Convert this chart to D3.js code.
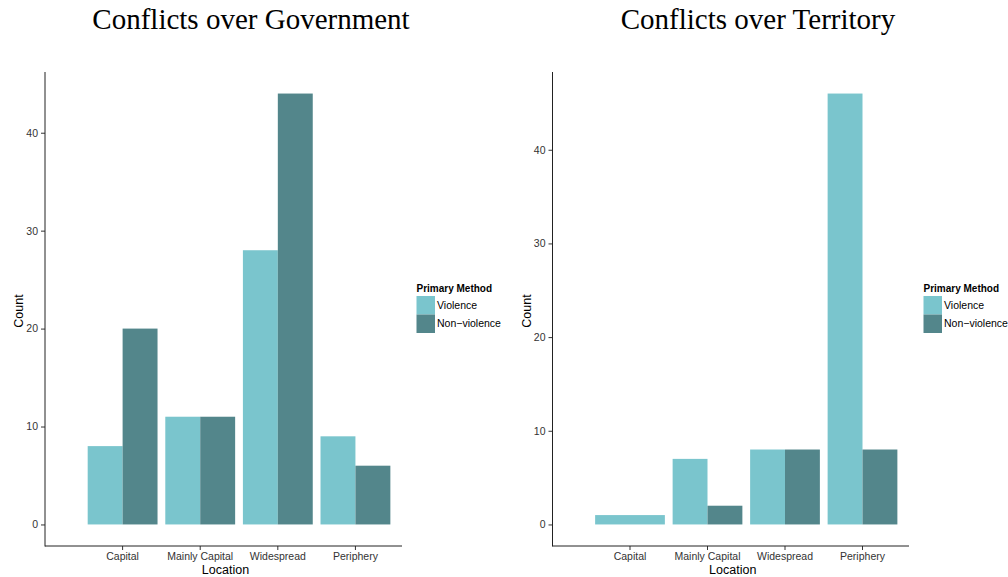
<!DOCTYPE html>
<html>
<head>
<meta charset="utf-8">
<script src="https://cdn.jsdelivr.net/npm/d3@7"></script>
<style>
  body { margin: 0; background: #fff; }
  svg { display: block; }
</style>
</head>
<body>
<svg id="chart" width="1008" height="577"></svg>
<script>
// Location categories shared by both panels
const locations = ["Capital", "Mainly Capital", "Widespread", "Periphery"];
const methods = ["Violence", "Non\u2212violence"];

// Counts per location (null = no conflicts of that method)
const govViolence = [8, 11, 28, 9];
const govNonViolence = [20, 11, 44, 6];
const terViolence = [1, 7, 8, 46];
const terNonViolence = [null, 2, 8, 8];

const yTicksGov = [0, 10, 20, 30, 40];
const yTicksTer = [0, 10, 20, 30, 40];

const colors = ["#7AC5CD", "#53868B"];

const svg = d3.select("#chart");

function drawPanel(opts) {
  const { title, titleX, left, right, top, bottom, violence, nonViolence, ticks, legendX } = opts;
  const g = svg.append("g");

  // y scale with 5% expansion of the data range
  const maxV = d3.max([...violence, ...nonViolence].filter(v => v != null));
  const pad = maxV * 0.05;
  const y = d3.scaleLinear().domain([-pad, maxV + pad]).range([bottom, top]);

  // discrete positions: categories at 1..4, panel spans 0..4.6
  const pos = d3.scaleLinear().domain([0, 4.6]).range([left, right]);
  const x = d3.scaleBand()
    .domain(locations)
    .range([pos(0.5), pos(4.5)])
    .paddingInner(0.1)
    .paddingOuter(0.05);

  // bars (dodged; a lone group takes the whole slot)
  locations.forEach((loc, i) => {
    const vals = [violence[i], nonViolence[i]];
    const present = vals.map((v, k) => ({ v, k })).filter(d => d.v != null);
    const bw = x.bandwidth() / present.length;
    present.forEach((d, j) => {
      g.append("rect")
        .attr("x", x(loc) + j * bw)
        .attr("width", bw)
        .attr("y", y(d.v))
        .attr("height", y(0) - y(d.v))
        .attr("fill", colors[d.k]);
    });
  });

  // y axis
  const yAxis = d3.axisLeft(y).tickValues(ticks).tickSize(4).tickPadding(3).tickFormat(d3.format("d"));
  const ya = g.append("g").attr("transform", `translate(${left},0)`).call(yAxis);
  ya.select(".domain").remove();
  ya.selectAll(".tick line").attr("stroke", "#333");
  ya.selectAll("text").attr("font-family", "Liberation Sans, Arial, sans-serif").attr("font-size", 10.5).attr("fill", "#333");

  // x axis
  const xAxis = d3.axisBottom(x).tickSize(4).tickPadding(3);
  const xa = g.append("g").attr("transform", `translate(0,${bottom})`).call(xAxis);
  xa.select(".domain").remove();
  xa.selectAll(".tick line").attr("stroke", "#333");
  xa.selectAll("text").attr("font-family", "Liberation Sans, Arial, sans-serif").attr("font-size", 10.5).attr("fill", "#333");

  // axis lines
  g.append("line").attr("x1", left).attr("x2", left).attr("y1", top).attr("y2", bottom + 0.5)
    .attr("stroke", "#222").attr("stroke-width", 1);
  g.append("line").attr("x1", left).attr("x2", right).attr("y1", bottom).attr("y2", bottom)
    .attr("stroke", "#222").attr("stroke-width", 1);

  // axis titles
  g.append("text")
    .attr("x", (left + right) / 2 + 2).attr("y", 573.5)
    .attr("text-anchor", "middle")
    .attr("font-family", "Liberation Sans, Arial, sans-serif").attr("font-size", 12.5)
    .text("Location");
  g.append("text")
    .attr("transform", `translate(${left - 22},${(top + bottom) / 2 + 2}) rotate(-90)`)
    .attr("text-anchor", "middle")
    .attr("font-family", "Liberation Sans, Arial, sans-serif").attr("font-size", 12.5)
    .text("Count");

  // panel title
  g.append("text")
    .attr("x", titleX).attr("y", 29)
    .attr("text-anchor", "middle")
    .attr("font-family", "Liberation Serif, Times New Roman, serif").attr("font-size", 29)
    .text(title);

  // legend
  const lg = g.append("g").attr("transform", `translate(${legendX},0)`);
  lg.append("text").attr("x", 0).attr("y", 292)
    .attr("font-family", "Liberation Sans, Arial, sans-serif").attr("font-size", 10)
    .attr("font-weight", "bold").text("Primary Method");
  methods.forEach((m, i) => {
    lg.append("rect").attr("x", 0).attr("y", 296 + i * 18.5).attr("width", 18.5).attr("height", 18.5)
      .attr("fill", colors[i]);
    lg.append("text").attr("x", 20.5).attr("y", 296 + i * 18.5 + 9.25)
      .attr("dy", "0.35em")
      .attr("font-family", "Liberation Sans, Arial, sans-serif").attr("font-size", 10.5)
      .text(m);
  });
}

drawPanel({
  title: "Conflicts over Government", titleX: 251,
  left: 45, right: 402, top: 72, bottom: 546,
  violence: govViolence, nonViolence: govNonViolence, ticks: yTicksGov, legendX: 416.5
});

drawPanel({
  title: "Conflicts over Territory", titleX: 758,
  left: 552.5, right: 909, top: 72, bottom: 546,
  violence: terViolence, nonViolence: terNonViolence, ticks: yTicksTer, legendX: 923.5
});
</script>
</body>
</html>
